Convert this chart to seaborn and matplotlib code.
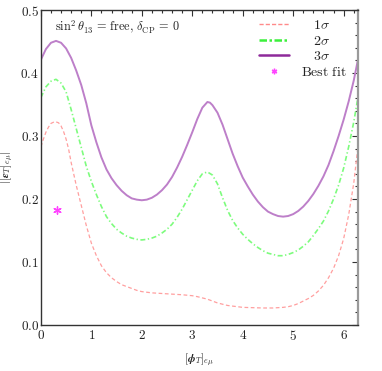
import numpy as np
import pandas as pd
import matplotlib
matplotlib.use("Agg")
import matplotlib.pyplot as plt
from matplotlib.lines import Line2D
from matplotlib.ticker import MultipleLocator, FuncFormatter
import seaborn as sns

# ---- data ----
x_3s = [0.0, 0.1, 0.2, 0.3, 0.4, 0.5, 0.6, 0.7, 0.8, 0.9, 1.0, 1.1, 1.2, 1.3, 1.4, 1.5, 1.6, 1.7,
        1.8, 1.9, 2.0, 2.1, 2.2, 2.3, 2.4, 2.5, 2.6, 2.7, 2.8, 2.9, 3.0, 3.1, 3.2, 3.3, 3.35, 3.4,
        3.5, 3.6, 3.7, 3.8, 3.9, 4.0, 4.1, 4.2, 4.3, 4.4, 4.5, 4.6, 4.7, 4.8, 4.9, 5.0, 5.1, 5.2,
        5.3, 5.4, 5.5, 5.6, 5.7, 5.8, 5.9, 6.0, 6.1, 6.2, 6.283]
y_3s = [0.421, 0.438, 0.448, 0.451, 0.448, 0.439, 0.424, 0.404, 0.381, 0.352, 0.317, 0.290, 0.266,
        0.247, 0.233, 0.222, 0.213, 0.206, 0.201, 0.199, 0.198, 0.199, 0.202, 0.207, 0.214, 0.223,
        0.235, 0.250, 0.267, 0.286, 0.306, 0.327, 0.345, 0.354, 0.353, 0.349, 0.337, 0.318, 0.295,
        0.272, 0.252, 0.234, 0.220, 0.207, 0.196, 0.187, 0.180, 0.176, 0.173, 0.172, 0.173, 0.176,
        0.181, 0.188, 0.197, 0.208, 0.221, 0.236, 0.254, 0.276, 0.300, 0.326, 0.355, 0.388, 0.421]

x_2s = [0.0, 0.1, 0.2, 0.3, 0.4, 0.5, 0.6, 0.7, 0.8, 0.9, 1.0, 1.1, 1.2, 1.3, 1.4, 1.5, 1.6, 1.7,
        1.8, 1.9, 2.0, 2.1, 2.2, 2.3, 2.4, 2.5, 2.6, 2.7, 2.8, 2.9, 3.0, 3.1, 3.2, 3.3, 3.4, 3.5,
        3.6, 3.7, 3.8, 3.9, 4.0, 4.1, 4.2, 4.3, 4.4, 4.5, 4.6, 4.7, 4.8, 4.9, 5.0, 5.1, 5.2, 5.3,
        5.4, 5.5, 5.6, 5.7, 5.8, 5.9, 6.0, 6.1, 6.2, 6.283]
y_2s = [0.361, 0.378, 0.387, 0.390, 0.384, 0.370, 0.342, 0.312, 0.282, 0.252, 0.228, 0.207, 0.188,
        0.172, 0.161, 0.152, 0.146, 0.141, 0.138, 0.136, 0.135, 0.136, 0.138, 0.141, 0.146, 0.152,
        0.160, 0.171, 0.184, 0.199, 0.214, 0.229, 0.240, 0.243, 0.238, 0.224, 0.202, 0.182, 0.166,
        0.154, 0.144, 0.136, 0.129, 0.123, 0.118, 0.114, 0.112, 0.110, 0.110, 0.112, 0.115, 0.119,
        0.125, 0.132, 0.142, 0.153, 0.165, 0.181, 0.200, 0.222, 0.249, 0.283, 0.322, 0.361]

x_1s = [0.0, 0.05, 0.1, 0.15, 0.2, 0.28, 0.35, 0.4, 0.45, 0.5, 0.55, 0.6, 0.65, 0.7, 0.8, 0.9, 1.0,
        1.1, 1.2, 1.3, 1.4, 1.5, 1.6, 1.7, 1.8, 1.9, 2.0, 2.2, 2.4, 2.6, 2.8, 3.0, 3.1, 3.2, 3.3,
        3.4, 3.5, 3.6, 3.7, 3.8, 4.0, 4.2, 4.4, 4.6, 4.8, 4.9, 5.0, 5.1, 5.2, 5.3, 5.4, 5.5, 5.6,
        5.7, 5.8, 5.9, 6.0, 6.1, 6.2, 6.283]
y_1s = [0.283, 0.295, 0.306, 0.314, 0.320, 0.323, 0.321, 0.316, 0.307, 0.295, 0.279, 0.258, 0.240,
        0.222, 0.190, 0.158, 0.130, 0.110, 0.094, 0.083, 0.075, 0.069, 0.064, 0.061, 0.058, 0.055,
        0.053, 0.051, 0.050, 0.049, 0.048, 0.0465, 0.045, 0.043, 0.041, 0.038, 0.035, 0.033, 0.031,
        0.030, 0.028, 0.0275, 0.027, 0.027, 0.028, 0.029, 0.031, 0.034, 0.038, 0.042, 0.047, 0.054,
        0.063, 0.075, 0.090, 0.110, 0.137, 0.175, 0.225, 0.283]

best_x = [0.32]
best_y = [0.183]

labels = [r"$\quad1\sigma$", r"$\quad2\sigma$", r"$\quad3\sigma$", r"$\mathrm{Best\ fit}$"]
x_ticks = [0, 1, 2, 3, 4, 5, 6]
y_ticks = [0.0, 0.1, 0.2, 0.3, 0.4, 0.5]

# ---- style ----
sns.set_theme(style="white")
plt.rcParams["font.family"] = ["DejaVu Serif"]
plt.rcParams["mathtext.fontset"] = "cm"

fig = plt.figure(figsize=(3.82, 3.71), dpi=100)
ax = fig.add_axes([0.107, 0.124, 0.83, 0.849])

c1_plot, c1_leg = "#ff9f9f", "#ff8a8a"
c2_plot, c2_leg = "#7dfc7d", "#3cf03c"
c3_plot, c3_leg = "#bd7fc9", "#8e2a9a"

df1 = pd.DataFrame({"x": x_1s, "y": y_1s})
df2 = pd.DataFrame({"x": x_2s, "y": y_2s})
df3 = pd.DataFrame({"x": x_3s, "y": y_3s})
sns.lineplot(data=df1, x="x", y="y", ax=ax, color=c1_plot, lw=0.9, sort=False,
             linestyle=(0, (3.0, 2.0)))
sns.lineplot(data=df2, x="x", y="y", ax=ax, color=c2_plot, lw=1.2, sort=False,
             linestyle=(0, (3.0, 1.5, 0.8, 1.5)))
sns.lineplot(data=df3, x="x", y="y", ax=ax, color=c3_plot, lw=1.4, sort=False)
sns.scatterplot(x=best_x, y=best_y, ax=ax, marker=(6, 2, 0), s=28, color="#ff44ff",
                linewidth=1.0, edgecolor="#ff44ff")

ax.set_xlim(0, 2 * np.pi)
ax.set_ylim(0, 0.5)
ax.set_xticks(x_ticks)
ax.set_yticks(y_ticks)
ax.xaxis.set_minor_locator(MultipleLocator(0.2))
ax.yaxis.set_minor_locator(MultipleLocator(0.02))
ax.xaxis.set_major_formatter(FuncFormatter(lambda v, p: r"$%d$" % round(v)))
ax.yaxis.set_major_formatter(FuncFormatter(lambda v, p: r"$%.1f$" % v))
ax.tick_params(which="both", direction="in", top=True, right=True, colors="#333333",
               labelcolor="#222222", labelsize=9.5, width=0.8)
ax.tick_params(which="major", length=4)
ax.tick_params(axis="x", which="major", pad=3)
ax.tick_params(axis="y", which="major", pad=1.5)
ax.tick_params(which="minor", length=2)

for side in ["left", "bottom", "top"]:
    ax.spines[side].set_color("#333333")
    ax.spines[side].set_linewidth(1.0)
ax.spines["right"].set_color("#9a9a9a")
ax.spines["right"].set_linewidth(1.6)

ax.set_xlabel(r"$[\boldsymbol{\phi}_T]_{e\mu}$", fontsize=8, labelpad=6)
ax.set_ylabel(r"$|[\boldsymbol{\epsilon}_T]_{e\mu}|$", fontsize=8, labelpad=3)

ax.text(0.045, 0.945, r"$\sin^2\theta_{13}\,=\,\mathrm{free},\,\delta_{\rm CP}\,=\,0$",
        transform=ax.transAxes, fontsize=8.8, ha="left", va="center", color="#222222")

handles = [
    Line2D([], [], color=c1_leg, lw=1.0, linestyle=(0, (3.0, 1.5))),
    Line2D([], [], color=c2_leg, lw=1.8, linestyle=(0, (3.0, 1.0, 1.0, 1.0))),
    Line2D([], [], color=c3_leg, lw=1.8),
    Line2D([], [], color="#ff44ff", marker=(6, 2, 0), markersize=4, linestyle="none"),
]
leg = ax.legend(handles, labels, loc="upper right", bbox_to_anchor=(0.965, 0.975),
                frameon=False, fontsize=10, handlelength=2.15, handletextpad=0.9,
                labelspacing=0.12, borderaxespad=0.0, borderpad=0.0)
for t in leg.get_texts():
    t.set_color("#222222")

fig.savefig("out.png", dpi=100)
